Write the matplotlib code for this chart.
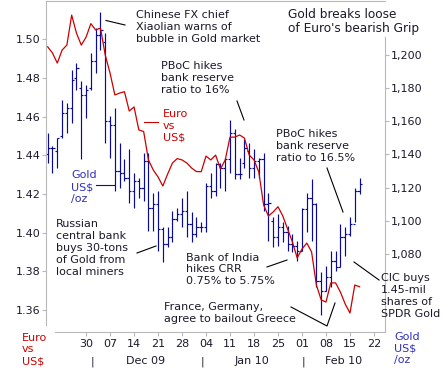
import matplotlib
matplotlib.use('Agg')
import matplotlib.pyplot as plt
import numpy as np
import pandas as pd
from matplotlib.lines import Line2D

W, H = 447, 377

# trading days shown on the chart (axis runs a few days past the data)
days = pd.bdate_range('2009-11-18', '2010-02-26')
n_data = 66

# gold, US$/oz (daily high / low / open / close)
gold_high = [1153, 1145, 1150, 1173, 1171, 1191, 1195, 1184, 1182, 1201,
             1216, 1226, 1213, 1163, 1168, 1147, 1137, 1143, 1129, 1126,
             1141, 1141, 1117, 1118, 1096, 1096, 1106, 1108, 1114, 1118,
             1105, 1102, 1099, 1123, 1129, 1135, 1135, 1138, 1161, 1155,
             1138, 1149, 1147, 1143, 1138, 1141, 1117, 1102, 1104, 1099,
             1097, 1092, 1088, 1108, 1117, 1125, 1111, 1069, 1073, 1082,
             1082, 1098, 1096, 1102, 1120, 1126]
gold_low = [1135, 1129, 1132, 1150, 1153, 1159, 1179, 1137, 1162, 1179,
            1189, 1203, 1147, 1138, 1118, 1120, 1124, 1111, 1108, 1114,
            1112, 1094, 1094, 1082, 1075, 1084, 1087, 1100, 1096, 1090,
            1087, 1090, 1093, 1093, 1114, 1115, 1120, 1118, 1129, 1125,
            1125, 1132, 1126, 1126, 1126, 1106, 1088, 1084, 1085, 1087,
            1082, 1081, 1076, 1082, 1093, 1088, 1060, 1043, 1058, 1060,
            1070, 1072, 1079, 1091, 1099, 1116]
gold_open = [1140, 1144, 1142, 1151, 1165, 1168, 1186, 1180, 1176, 1180,
             1196, 1212, 1208, 1160, 1158, 1130, 1129, 1126, 1118, 1124,
             1120, 1136, 1108, 1110, 1095, 1086, 1090, 1101, 1104, 1106,
             1098, 1092, 1096, 1096, 1121, 1118, 1134, 1132, 1137, 1153,
             1128, 1135, 1142, 1132, 1136, 1137, 1110, 1100, 1090, 1096,
             1093, 1086, 1085, 1082, 1107, 1114, 1110, 1064, 1058, 1066,
             1076, 1072, 1090, 1092, 1098, 1118]
gold_close = [1144, 1144, 1150, 1165, 1168, 1185, 1192, 1176, 1179, 1196,
              1212, 1215, 1160, 1158, 1130, 1129, 1126, 1118, 1124, 1120,
              1136, 1108, 1110, 1095, 1086, 1090, 1101, 1104, 1106, 1098,
              1092, 1096, 1096, 1121, 1118, 1134, 1132, 1137, 1153, 1128,
              1128, 1144, 1132, 1136, 1137, 1110, 1111, 1090, 1096, 1093,
              1086, 1085, 1082, 1107, 1114, 1110, 1064, 1058, 1066, 1076,
              1072, 1090, 1092, 1098, 1118, 1122]

# euro vs US$
euro = [1.4961, 1.4929, 1.4877, 1.4944, 1.4970, 1.5125, 1.5032, 1.4970, 1.5011, 1.5081,
        1.5048, 1.5058, 1.4918, 1.4825, 1.4712, 1.4722, 1.4729, 1.4629, 1.4650, 1.4531,
        1.4523, 1.4376, 1.4324, 1.4288, 1.4241, 1.4303, 1.4360, 1.4383, 1.4376, 1.4360,
        1.4334, 1.4316, 1.4315, 1.4396, 1.4376, 1.4401, 1.4329, 1.4376, 1.4494, 1.4494,
        1.4505, 1.4489, 1.4401, 1.4376, 1.4313, 1.4143, 1.4086, 1.4107, 1.4134, 1.4086,
        1.4019, 1.3952, 1.3869, 1.3915, 1.3946, 1.3900, 1.3729, 1.3652, 1.3641, 1.3740,
        1.3740, 1.3693, 1.3631, 1.3584, 1.3729, 1.3720]

euro_ticks = [1.36, 1.38, 1.40, 1.42, 1.44, 1.46, 1.48, 1.50]
gold_ticks = [1080, 1100, 1120, 1140, 1160, 1180, 1200]
month_labels = ['Dec 09', 'Jan 10', 'Feb 10']

RED = '#cc0000'
NAVY = '#0a0a9e'
TXTBLUE = '#3030c0'
TXT = '#1a1a2a'
GRAY = '#b8b8b8'

x = np.arange(n_data)

fig = plt.figure(figsize=(W / 100, H / 100), dpi=100)
ax = fig.add_axes([46 / W, 45 / H, 339 / W, 331 / H])
ax2 = ax.twinx()
ax.set_zorder(ax2.get_zorder() + 1)
ax.patch.set_visible(False)

# gold OHLC bars
ax2.vlines(x, gold_low, gold_high, color=NAVY, lw=0.85)
ax2.hlines(gold_open, x - 0.45, x, color=NAVY, lw=0.85)
ax2.hlines(gold_close, x, x + 0.45, color=NAVY, lw=0.85)

# euro line
ax.plot(x, euro, color=RED, lw=0.9)

ax.set_xlim(-0.35, 70.3)
ax.set_ylim(1.3486, 1.5198)
ax2.set_ylim(1033.0, 1232.4)

# spines
for s in ['left', 'top', 'bottom']:
    ax.spines[s].set_color(GRAY)
ax.spines['right'].set_visible(False)
ax.spines['left'].set_bounds(1.3522, 1.5198)
ax.spines['bottom'].set_bounds(1.45, 70.3)
for s in ['left', 'top', 'bottom']:
    ax2.spines[s].set_visible(False)
ax2.spines['right'].set_color(GRAY)
ax2.spines['right'].set_bounds(1033.0, 1210.7)

ax.set_yticks(euro_ticks)
ax.set_yticklabels(['%.2f' % v for v in euro_ticks])
ax2.set_yticks(gold_ticks)
ax2.set_yticklabels(['{:,}'.format(v) for v in gold_ticks])

# day ticks on Mondays from the end of November on
mondays = [i for i, d in enumerate(days) if d.weekday() == 0 and d >= pd.Timestamp('2009-11-30')]
ax.set_xticks(mondays)
ax.set_xticklabels([days[i].strftime('%d') for i in mondays])

ax.tick_params(axis='y', colors=GRAY, labelcolor=TXT, labelsize=8, length=3, pad=1)
ax2.tick_params(axis='y', colors=GRAY, labelcolor=TXT, labelsize=8, length=3, pad=1)
ax.tick_params(axis='x', colors=GRAY, labelcolor=TXT, labelsize=8, length=3, pad=2)

# month labels and separators under the day ticks
trans = ax.get_xaxis_transform()
month_starts = [i for i in range(1, len(days)) if days[i].month != days[i - 1].month]
edges = [month_starts[0]] + month_starts[1:] + [70.3]
for k, lab in enumerate(month_labels):
    mid = (edges[k] + edges[k + 1]) / 2
    ax.text(mid, -0.088, lab, transform=trans, ha='center', va='center',
            fontsize=8, color=TXT)
for m in month_starts:
    ax.text(m + 0.3, -0.09, '|', transform=trans, ha='center', va='center',
            fontsize=8, color=TXT)


def ftext(px, py, s, color=TXT, size=8, ls=1.22):
    fig.text(px / W, 1 - py / H, s, ha='left', va='center', color=color,
             fontsize=size, linespacing=ls)


def fline(pts, color='black'):
    xs = [p[0] / W for p in pts]
    ys = [1 - p[1] / H for p in pts]
    fig.add_artist(Line2D(xs, ys, color=color, lw=0.8))


ftext(136, 27, 'Chinese FX chief\nXiaolian warns of\nbubble in Gold market')
fline([(106, 20.5), (125, 25)])
ftext(288, 21.5, "Gold breaks loose\nof Euro's bearish Grip", size=8.7, ls=1.1)
ftext(161, 78, 'PBoC hikes\nbank reserve\nratio to 16%')
fline([(237, 101), (244, 120)])
ftext(163, 126, 'Euro\nvs\nUS$', color=RED)
fline([(144, 122), (158, 122)], color=RED)
ftext(276, 146, 'PBoC hikes\nbank reserve\nratio to 16.5%')
fline([(327, 168), (343, 212)])
ftext(71, 187, 'Gold\nUS$\n/oz', color=TXTBLUE)
fline([(96, 185), (114, 185)], color=NAVY)
ftext(56, 248, 'Russian\ncentral bank\nbuys 30-tons\nof Gold from\nlocal miners')
fline([(137, 253), (156, 246)])
ftext(186, 269.5, 'Bank of India\nhikes CRR\n0.75% to 5.75%')
fline([(267, 267), (287, 260)])
ftext(164, 313, 'France, Germany,\nagree to bailout Greece')
fline([(291, 307), (327, 326), (335, 303)])
ftext(381, 296, 'CIC buys\n1.45-mil\nshares of\nSPDR Gold')
fline([(354, 262), (379, 280)])
ftext(22, 349.5, 'Euro\nvs\nUS$', color=RED)
ftext(394, 348.5, 'Gold\nUS$\n/oz', color=TXTBLUE)

fig.savefig('out.png', dpi=100)
